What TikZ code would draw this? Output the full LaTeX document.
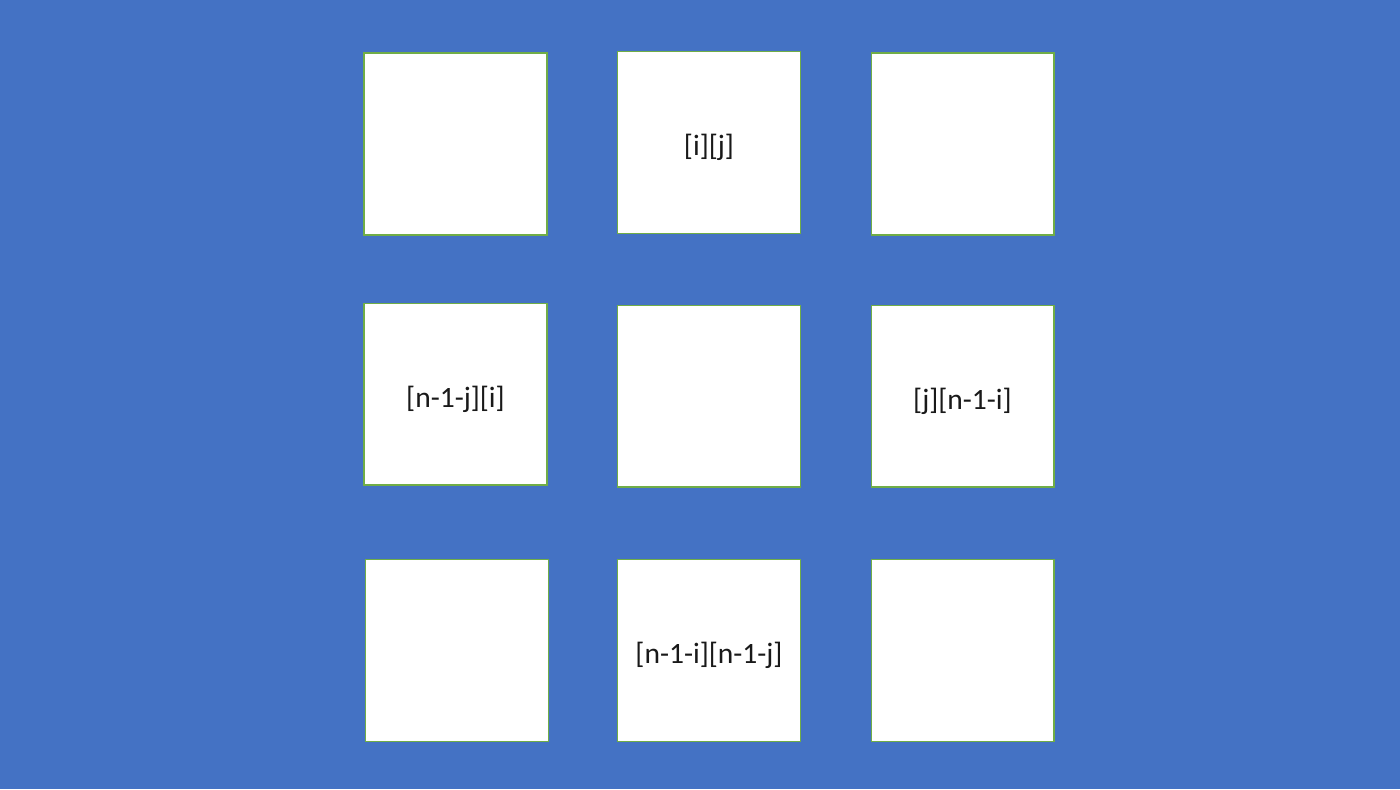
\documentclass[tikz,border=0pt]{standalone}
\usepackage{fontspec}
\setmainfont{Carlito}
\definecolor{bgblue}{HTML}{4472C4}
\definecolor{edgegreen}{HTML}{70AD47}
\newcommand{\celltext}[1]{\raisebox{-2.8pt}[\height][\depth]{#1}}
\tikzset{cell/.style={draw=edgegreen, line width=0.6pt, fill=white, minimum width=3.66cm, minimum height=3.64cm, inner sep=0pt, text=black!90, font=\fontsize{16.8}{20}\selectfont}}
\begin{document}
\begin{tikzpicture}[x=0.02cm, y=-0.02cm]
\fill[bgblue] (0,0) rectangle (1400,789);
\useasboundingbox (0,0) rectangle (1400,789);
\node[cell] (a11) at (455.5,144) {};
\node[cell] (a12) at (709,142.5) {\celltext{[i][j]}};
\node[cell] (a13) at (962.5,144) {};
\node[cell] (a21) at (455.5,394) {\celltext{[n-1-j][i]}};
\node[cell] (a22) at (709,396) {};
\node[cell] (a23) at (962.5,396) {\celltext{[j][n-1-i]}};
\node[cell] (a31) at (457,650.5) {};
\node[cell] (a32) at (709,650.5) {\celltext{[n-1-i][n-1-j]}};
\node[cell] (a33) at (962.5,650.5) {};
\end{tikzpicture}
\end{document}
